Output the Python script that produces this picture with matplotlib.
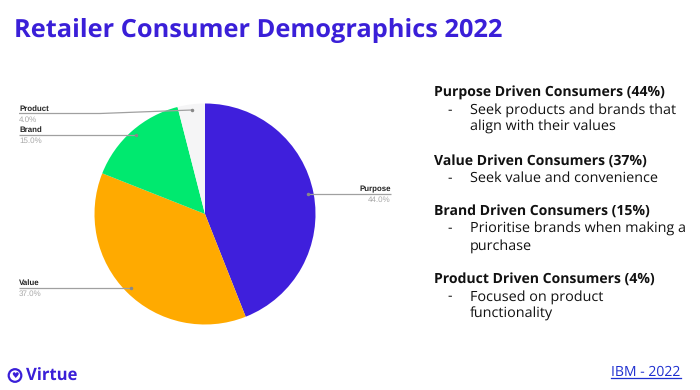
import matplotlib
matplotlib.use("Agg")
import matplotlib.pyplot as plt
from matplotlib.patches import Circle

plt.rcParams["text.hinting"] = "no_hinting"

categories = ["Purpose", "Value", "Brand", "Product"]
shares = [44.0, 37.0, 15.0, 4.0]
colours = ["#3F1FDC", "#FFAA00", "#00E96F", "#F5F5F6"]
title = "Retailer Consumer Demographics 2022"
blocks = [
    ("Purpose Driven Consumers (44%)", ["Seek products and brands that", "align with their values"]),
    ("Value Driven Consumers (37%)", ["Seek value and convenience"]),
    ("Brand Driven Consumers (15%)", ["Prioritise brands when making a", "purchase"]),
    ("Product Driven Consumers (4%)", ["Focused on product", "functionality"]),
]
INK = "#3A1FD8"
W, H = 700, 390

fig = plt.figure(figsize=(W / 100, H / 100), dpi=100, facecolor="white")
cx, cy, r = 205, 214, 110.5
pie_ax = fig.add_axes([(cx - r) / W, 1 - (cy + r) / H, 2 * r / W, 2 * r / H])
pie_ax.pie(shares, colors=colours, startangle=90, counterclock=False, radius=1,
           wedgeprops=dict(linewidth=0))
pie_ax.set_xlim(-1, 1); pie_ax.set_ylim(-1, 1)

ov = fig.add_axes([0, 0, 1, 1], facecolor="none")
ov.set_xlim(0, W); ov.set_ylim(H, 0); ov.axis("off")

ov.text(14, 37.3, title, fontsize=18.25, fontweight="bold", family="Open Sans", color=INK, va="baseline", ha="left")

# leader labels
leaders = [
    ("Product", 4.0, 19, 113.5, [(19, 113.5), (100, 113.5), (192, 110)], "left"),
    ("Brand", 15.0, 19, 135, [(19, 135), (136, 135)], "left"),
    ("Value", 37.0, 19, 287.5, [(19, 287.5), (131, 287.5)], "left"),
    ("Purpose", 44.0, 391, 194, [(391, 194), (308, 194)], "right"),
]
for name, val, x, y, pts, ha in leaders:
    xs, ys = zip(*pts)
    ov.plot(xs, ys, color="#a0a0a0", lw=0.9, solid_capstyle="butt")
    ov.plot(xs[-1], ys[-1], "o", ms=1.5, color="#888888")
    ov.text(x, y - 2.8, name, fontsize=5.7, fontweight="bold", family="Liberation Sans", color="#222222", ha=ha, va="baseline")
    ov.text(x, y + 8.4, f"{val:.1f}%", fontsize=5.8, family="Liberation Sans", color="#a8a8a8", ha=ha, va="baseline")

# right-hand text
ys = [96.5, 164.5, 215, 283]
for (head, lines), y in zip(blocks, ys):
    ov.text(434, y, head, fontsize=10.1, fontweight="bold", family="Open Sans", color="#111111", va="baseline")
    for i, line in enumerate(lines):
        ly = y + 17.3 + i * 17
        if i == 0:
            ov.text(447, ly, "-", fontsize=10, family="Open Sans", color="#111111", va="baseline")
        ov.text(470, ly, line, fontsize=10.37, family="Open Sans", color="#111111", va="baseline")

# logo and source
ov.add_patch(Circle((15, 375.5), 6.3, fill=False, ec=INK, lw=1.6))
ov.text(15, 375.8, "\u2665", fontsize=6, family="DejaVu Sans", color=INK, ha="center", va="center")
ov.text(26, 381, "Virtue", fontsize=12, fontweight="bold", family="Open Sans", color=INK, va="baseline")
ov.text(611, 375.7, "IBM - 2022", fontsize=10.1, family="Open Sans", color="#1E2FD0", va="baseline")
ov.plot([611, 681], [377.5, 377.5], color="#1E2FD0", lw=0.9)

fig.savefig("out.png", dpi=100)
